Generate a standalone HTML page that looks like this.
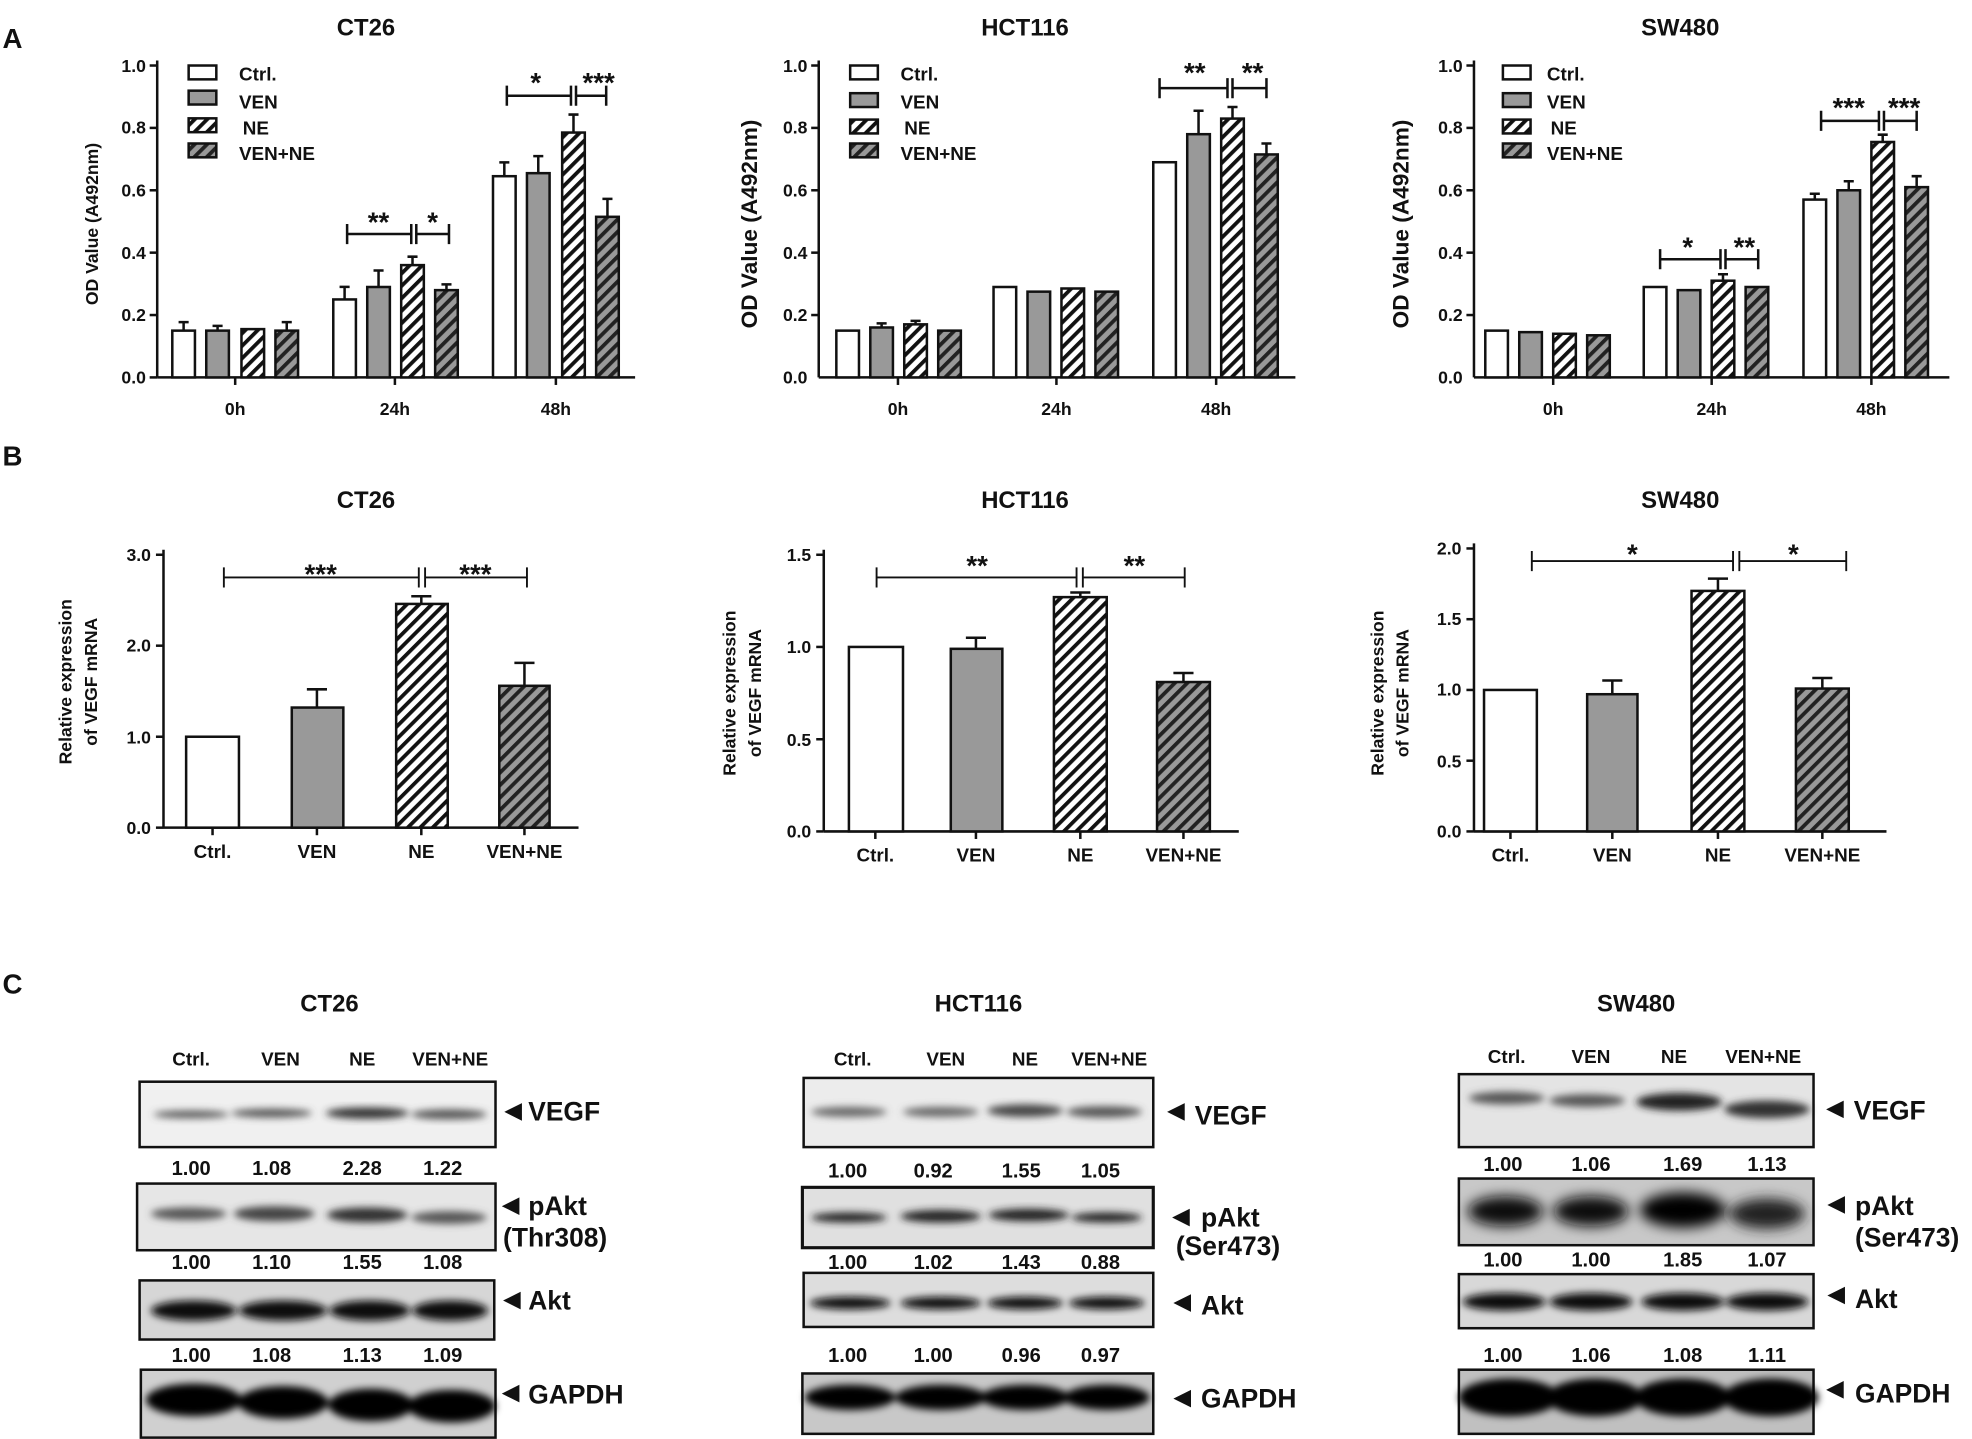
<!DOCTYPE html>
<html><head><meta charset="utf-8"><style>
html,body{margin:0;padding:0;background:#fff;}
svg{display:block;}
text{font-family:"Liberation Sans",Arial,sans-serif;font-weight:bold;fill:#111;}
</style></head><body>
<svg width="1972" height="1439" viewBox="0 0 1568 1144" xmlns="http://www.w3.org/2000/svg">
<defs>
<pattern id="hw" patternUnits="userSpaceOnUse" width="7" height="7" patternTransform="rotate(45)"><rect width="7" height="7" fill="#fff"/><rect width="3" height="7" fill="#111"/></pattern>
<pattern id="hg" patternUnits="userSpaceOnUse" width="7" height="7" patternTransform="rotate(45)"><rect width="7" height="7" fill="#999"/><rect width="3" height="7" fill="#222"/></pattern>
<filter id="bl" x="-20%" y="-50%" width="140%" height="200%"><feGaussianBlur stdDeviation="3"/></filter>
<filter id="bl2" x="-20%" y="-50%" width="140%" height="200%"><feGaussianBlur stdDeviation="5"/></filter>
</defs>
<g stroke="#111" stroke-width="2">
<!-- Panel A CT26 -->
<g>
<line x1="125" y1="48" x2="125" y2="300"/><line x1="125" y1="300" x2="505" y2="300"/>
<line x1="119" y1="52" x2="125" y2="52"/><line x1="119" y1="101.6" x2="125" y2="101.6"/><line x1="119" y1="151.2" x2="125" y2="151.2"/><line x1="119" y1="200.8" x2="125" y2="200.8"/><line x1="119" y1="250.4" x2="125" y2="250.4"/><line x1="119" y1="300" x2="125" y2="300"/>
<line x1="187" y1="300" x2="187" y2="306"/><line x1="314" y1="300" x2="314" y2="306"/><line x1="442" y1="300" x2="442" y2="306"/>
<rect x="137" y="262.8" width="18" height="37.2" fill="#fff"/><rect x="164" y="262.8" width="18" height="37.2" fill="#999"/><rect x="192" y="261.6" width="18" height="38.4" fill="url(#hw)"/><rect x="219" y="262.8" width="18" height="37.2" fill="url(#hg)"/>
<rect x="265" y="238" width="18" height="62" fill="#fff"/><rect x="292" y="228.1" width="18" height="71.9" fill="#999"/><rect x="319" y="210.7" width="18" height="89.3" fill="url(#hw)"/><rect x="346" y="230.6" width="18" height="69.4" fill="url(#hg)"/>
<rect x="392" y="140" width="18" height="160" fill="#fff"/><rect x="419" y="137.6" width="18" height="162.4" fill="#999"/><rect x="447" y="105.3" width="18" height="194.7" fill="url(#hw)"/><rect x="474" y="172.3" width="18" height="127.7" fill="url(#hg)"/>
<path d="M146 263V256M142 256H150M173 263V259M169 259H177M228 263V256M224 256H232M274 238V228M270 228H278M301 228V215M297 215H305M328 211V204M324 204H332M355 231V226M351 226H359M401 140V129M397 129H405M428 138V124M424 124H432M456 105V91M452 91H460M483 172V158M479 158H487" fill="none"/>
<path d="M276 178V194M276 186H327M327 178V194M331 178V194M331 186H357M357 178V194M403 68V84M403 76H454M454 68V84M458 68V84M458 76H482M482 68V84" fill="none"/>
</g>
<!-- Panel A HCT116 -->
<g>
<line x1="651" y1="48" x2="651" y2="300"/><line x1="651" y1="300" x2="1030" y2="300"/>
<line x1="645" y1="52" x2="651" y2="52"/><line x1="645" y1="101.6" x2="651" y2="101.6"/><line x1="645" y1="151.2" x2="651" y2="151.2"/><line x1="645" y1="200.8" x2="651" y2="200.8"/><line x1="645" y1="250.4" x2="651" y2="250.4"/>
<line x1="714" y1="300" x2="714" y2="306"/><line x1="840" y1="300" x2="840" y2="306"/><line x1="967" y1="300" x2="967" y2="306"/>
<rect x="665" y="262.8" width="18" height="37.2" fill="#fff"/><rect x="692" y="260.3" width="18" height="39.7" fill="#999"/><rect x="719" y="257.8" width="18" height="42.2" fill="url(#hw)"/><rect x="746" y="262.8" width="18" height="37.2" fill="url(#hg)"/>
<rect x="790" y="228.1" width="18" height="71.9" fill="#fff"/><rect x="817" y="231.8" width="18" height="68.2" fill="#999"/><rect x="844" y="229.3" width="18" height="70.7" fill="url(#hw)"/><rect x="871" y="231.8" width="18" height="68.2" fill="url(#hg)"/>
<rect x="917" y="128.9" width="18" height="171.1" fill="#fff"/><rect x="944" y="106.6" width="18" height="193.4" fill="#999"/><rect x="971" y="94.2" width="18" height="205.8" fill="url(#hw)"/><rect x="998" y="122.7" width="18" height="177.3" fill="url(#hg)"/>
<path d="M701 260V257M697 257H705M728 258V255M724 255H732M953 107V88M949 88H957M980 94V85M976 85H984M1007 123V114M1003 114H1011" fill="none"/>
<path d="M922 62V78M922 70H976M976 62V78M980 62V78M980 70H1007M1007 62V78" fill="none"/>
</g>
<!-- Panel A SW480 -->
<g>
<line x1="1172" y1="48" x2="1172" y2="300"/><line x1="1172" y1="300" x2="1550" y2="300"/>
<line x1="1166" y1="52" x2="1172" y2="52"/><line x1="1166" y1="101.6" x2="1172" y2="101.6"/><line x1="1166" y1="151.2" x2="1172" y2="151.2"/><line x1="1166" y1="200.8" x2="1172" y2="200.8"/><line x1="1166" y1="250.4" x2="1172" y2="250.4"/>
<line x1="1235" y1="300" x2="1235" y2="306"/><line x1="1361" y1="300" x2="1361" y2="306"/><line x1="1488" y1="300" x2="1488" y2="306"/>
<rect x="1181" y="262.8" width="18" height="37.2" fill="#fff"/><rect x="1208" y="264" width="18" height="36" fill="#999"/><rect x="1235" y="265.3" width="18" height="34.7" fill="url(#hw)"/><rect x="1262" y="266.5" width="18" height="33.5" fill="url(#hg)"/>
<rect x="1307" y="228.1" width="18" height="71.9" fill="#fff"/><rect x="1334" y="230.6" width="18" height="69.4" fill="#999"/><rect x="1361" y="223.1" width="18" height="76.9" fill="url(#hw)"/><rect x="1388" y="228.1" width="18" height="71.9" fill="url(#hg)"/>
<rect x="1434" y="158.6" width="18" height="141.4" fill="#fff"/><rect x="1461" y="151.2" width="18" height="148.8" fill="#999"/><rect x="1488" y="112.8" width="18" height="187.2" fill="url(#hw)"/><rect x="1515" y="148.7" width="18" height="151.3" fill="url(#hg)"/>
<path d="M1370 223V218M1366 218H1374M1443 159V154M1439 154H1447M1470 151V144M1466 144H1474M1497 113V107M1493 107H1501M1524 149V140M1520 140H1528" fill="none"/>
<path d="M1320 198V214M1320 206H1368M1368 198V214M1372 198V214M1372 206H1398M1398 198V214M1448 88V104M1448 96H1494M1494 88V104M1498 88V104M1498 96H1524M1524 88V104" fill="none"/>
</g>
<!-- legends -->
<g stroke-width="2">
<rect x="150" y="52" width="22" height="11" fill="#fff"/><rect x="150" y="72" width="22" height="11" fill="#999"/><rect x="150" y="94" width="22" height="11" fill="url(#hw)"/><rect x="150" y="114" width="22" height="11" fill="url(#hg)"/>
<rect x="676" y="52" width="22" height="11" fill="#fff"/><rect x="676" y="74" width="22" height="11" fill="#999"/><rect x="676" y="95" width="22" height="11" fill="url(#hw)"/><rect x="676" y="114" width="22" height="11" fill="url(#hg)"/>
<rect x="1195" y="52" width="22" height="11" fill="#fff"/><rect x="1195" y="74" width="22" height="11" fill="#999"/><rect x="1195" y="95" width="22" height="11" fill="url(#hw)"/><rect x="1195" y="114" width="22" height="11" fill="url(#hg)"/>
</g>
<!-- Panel B CT26 -->
<g>
<line x1="130" y1="437" x2="130" y2="658"/><line x1="130" y1="658" x2="460" y2="658"/>
<line x1="124" y1="441" x2="130" y2="441"/><line x1="124" y1="513.3" x2="130" y2="513.3"/><line x1="124" y1="585.7" x2="130" y2="585.7"/><line x1="124" y1="658" x2="130" y2="658"/>
<line x1="169" y1="658" x2="169" y2="664"/><line x1="252" y1="658" x2="252" y2="664"/><line x1="335" y1="658" x2="335" y2="664"/><line x1="417" y1="658" x2="417" y2="664"/>
<rect x="148" y="585.7" width="42" height="72.3" fill="#fff"/><rect x="232" y="562.5" width="41" height="95.5" fill="#999"/><rect x="315" y="480.1" width="41" height="177.9" fill="url(#hw)"/><rect x="397" y="545.2" width="40" height="112.8" fill="url(#hg)"/>
<path d="M252 562V548M244 548H260M335 480V474M327 474H343M417 545V527M409 527H425" fill="none"/>
<path d="M178 451V467M178 459H333M333 451V467M338 451V467M338 459H419M419 451V467" fill="none" stroke-width="1.5"/>
</g>
<!-- Panel B HCT116 -->
<g>
<line x1="655" y1="437" x2="655" y2="661"/><line x1="655" y1="661" x2="985" y2="661"/>
<line x1="649" y1="441" x2="655" y2="441"/><line x1="649" y1="514.3" x2="655" y2="514.3"/><line x1="649" y1="587.7" x2="655" y2="587.7"/><line x1="649" y1="661" x2="655" y2="661"/>
<line x1="696" y1="661" x2="696" y2="667"/><line x1="776" y1="661" x2="776" y2="667"/><line x1="859" y1="661" x2="859" y2="667"/><line x1="941" y1="661" x2="941" y2="667"/>
<rect x="675" y="514.3" width="43" height="146.7" fill="#fff"/><rect x="756" y="515.8" width="41" height="145.2" fill="#999"/><rect x="838" y="474.7" width="42" height="186.3" fill="url(#hw)"/><rect x="920" y="542.2" width="42" height="118.8" fill="url(#hg)"/>
<path d="M776 516V507M768 507H784M859 475V471M851 471H867M941 542V535M933 535H949" fill="none"/>
<path d="M697 451V467M697 459H856M856 451V467M861 451V467M861 459H942M942 451V467" fill="none" stroke-width="1.5"/>
</g>
<!-- Panel B SW480 -->
<g>
<line x1="1172" y1="432" x2="1172" y2="661"/><line x1="1172" y1="661" x2="1500" y2="661"/>
<line x1="1166" y1="436" x2="1172" y2="436"/><line x1="1166" y1="492.25" x2="1172" y2="492.25"/><line x1="1166" y1="548.5" x2="1172" y2="548.5"/><line x1="1166" y1="604.75" x2="1172" y2="604.75"/><line x1="1166" y1="661" x2="1172" y2="661"/>
<line x1="1201" y1="661" x2="1201" y2="667"/><line x1="1282" y1="661" x2="1282" y2="667"/><line x1="1366" y1="661" x2="1366" y2="667"/><line x1="1449" y1="661" x2="1449" y2="667"/>
<rect x="1180" y="548.5" width="42" height="112.5" fill="#fff"/><rect x="1262" y="551.9" width="40" height="109.1" fill="#999"/><rect x="1345" y="469.75" width="42" height="191.25" fill="url(#hw)"/><rect x="1428" y="547.4" width="42" height="113.6" fill="url(#hg)"/>
<path d="M1282 552V541M1274 541H1290M1366 470V460M1358 460H1374M1449 547V539M1441 539H1457" fill="none"/>
<path d="M1218 438V454M1218 446H1378M1378 438V454M1383 438V454M1383 446H1468M1468 438V454" fill="none" stroke-width="1.5"/>
</g>
</g>

<!-- Blots -->
<g>
<!-- CT26 -->
<rect x="111" y="860" width="283" height="52" fill="#f0f0f0" stroke="#111" stroke-width="2"/>
<g filter="url(#bl)" fill="#555"><ellipse cx="152" cy="886" rx="30" ry="3"/><ellipse cx="216" cy="885" rx="32" ry="3.5"/><ellipse cx="292" cy="885" rx="33" ry="4.5" fill="#333"/><ellipse cx="357" cy="886" rx="30" ry="4"/></g>
<rect x="109" y="941" width="285" height="53" fill="#e6e6e6" stroke="#111" stroke-width="2"/>
<g filter="url(#bl)" fill="#555"><ellipse cx="150" cy="965" rx="30" ry="5"/><ellipse cx="218" cy="965" rx="32" ry="6" fill="#444"/><ellipse cx="292" cy="966" rx="32" ry="6" fill="#333"/><ellipse cx="357" cy="968" rx="30" ry="5"/></g>
<rect x="111" y="1018" width="282" height="47" fill="#d6d6d6" stroke="#111" stroke-width="2"/>
<g filter="url(#bl)" fill="#111"><ellipse cx="154" cy="1042" rx="34" ry="8"/><ellipse cx="225" cy="1042" rx="35" ry="8"/><ellipse cx="294" cy="1042" rx="32" ry="8"/><ellipse cx="358" cy="1042" rx="30" ry="8"/></g>
<rect x="112" y="1089" width="282" height="54" fill="#d0d0d0" stroke="#111" stroke-width="2"/>
<g filter="url(#bl)" fill="#000"><ellipse cx="154" cy="1113" rx="38" ry="13"/><ellipse cx="225" cy="1115" rx="36" ry="13"/><ellipse cx="295" cy="1117" rx="34" ry="13"/><ellipse cx="359" cy="1118" rx="35" ry="13"/></g>
<!-- HCT116 -->
<rect x="639" y="857" width="278" height="55" fill="#ececec" stroke="#111" stroke-width="2"/>
<g filter="url(#bl)" fill="#666"><ellipse cx="675" cy="884" rx="30" ry="4"/><ellipse cx="748" cy="884" rx="30" ry="4"/><ellipse cx="815" cy="883" rx="30" ry="5" fill="#444"/><ellipse cx="878" cy="884" rx="30" ry="4.5" fill="#555"/></g>
<rect x="638" y="944" width="279" height="48" fill="#e0e0e0" stroke="#111" stroke-width="2.5"/>
<g filter="url(#bl)" fill="#222"><ellipse cx="675" cy="968" rx="30" ry="4"/><ellipse cx="748" cy="967" rx="32" ry="5"/><ellipse cx="818" cy="966" rx="32" ry="5"/><ellipse cx="880" cy="968" rx="28" ry="4"/></g>
<rect x="639" y="1012" width="278" height="43" fill="#ddd" stroke="#111" stroke-width="2"/>
<g filter="url(#bl)" fill="#111"><ellipse cx="676" cy="1036" rx="32" ry="5"/><ellipse cx="748" cy="1036" rx="32" ry="5"/><ellipse cx="815" cy="1036" rx="30" ry="5"/><ellipse cx="880" cy="1036" rx="30" ry="5"/></g>
<rect x="638" y="1092" width="279" height="48" fill="#c8c8c8" stroke="#111" stroke-width="2"/>
<g filter="url(#bl)" fill="#000"><ellipse cx="676" cy="1111" rx="36" ry="10"/><ellipse cx="748" cy="1111" rx="36" ry="10"/><ellipse cx="815" cy="1111" rx="35" ry="10"/><ellipse cx="880" cy="1111" rx="34" ry="10"/></g>
<!-- SW480 -->
<rect x="1160" y="854" width="282" height="58" fill="#e4e4e4" stroke="#111" stroke-width="2"/>
<g filter="url(#bl)" fill="#555"><ellipse cx="1198" cy="873" rx="30" ry="5"/><ellipse cx="1262" cy="875" rx="30" ry="5"/><ellipse cx="1335" cy="876" rx="34" ry="7" fill="#222"/><ellipse cx="1405" cy="882" rx="34" ry="7" fill="#333"/></g>
<rect x="1160" y="937" width="282" height="53" fill="#c8c8c8" stroke="#111" stroke-width="2"/>
<g filter="url(#bl2)" fill="#111"><ellipse cx="1197" cy="963" rx="30" ry="12"/><ellipse cx="1265" cy="963" rx="30" ry="12"/><ellipse cx="1338" cy="962" rx="34" ry="14" fill="#000"/><ellipse cx="1405" cy="965" rx="30" ry="12" fill="#222"/></g>
<rect x="1160" y="1013" width="282" height="43" fill="#d8d8d8" stroke="#111" stroke-width="2"/>
<g filter="url(#bl)" fill="#111"><ellipse cx="1196" cy="1035" rx="33" ry="7"/><ellipse cx="1265" cy="1035" rx="33" ry="7"/><ellipse cx="1338" cy="1035" rx="33" ry="7"/><ellipse cx="1405" cy="1035" rx="33" ry="7"/></g>
<rect x="1160" y="1089" width="282" height="51" fill="#c0c0c0" stroke="#111" stroke-width="2"/>
<g filter="url(#bl)" fill="#000"><ellipse cx="1200" cy="1111" rx="40" ry="15"/><ellipse cx="1268" cy="1111" rx="38" ry="15"/><ellipse cx="1338" cy="1111" rx="38" ry="15"/><ellipse cx="1408" cy="1111" rx="38" ry="15"/></g>
</g>
<!-- arrows -->
<g fill="#111">
<path d="M401 884l14-7v14z"/><path d="M399 959l14-7v14z"/><path d="M400 1034l14-7v14z"/><path d="M399 1108l14-7v14z"/>
<path d="M928 884l14-7v14z"/><path d="M932 968l14-7v14z"/><path d="M933 1036l14-7v14z"/><path d="M933 1112l14-7v14z"/>
<path d="M1452 882l14-7v14z"/><path d="M1453 958l14-7v14z"/><path d="M1453 1030l14-7v14z"/><path d="M1452 1105l14-7v14z"/>
</g>

<!-- Text -->
<g font-size="22"><text x="2" y="38">A</text><text x="2" y="370">B</text><text x="2" y="790">C</text></g>
<g font-size="19" text-anchor="middle">
<text x="291" y="28">CT26</text><text x="815" y="28">HCT116</text><text x="1336" y="28">SW480</text>
<text x="291" y="404">CT26</text><text x="815" y="404">HCT116</text><text x="1336" y="404">SW480</text>
<text x="262" y="804">CT26</text><text x="778" y="804">HCT116</text><text x="1301" y="804">SW480</text>
</g>
<g font-size="14" text-anchor="end">
<text x="116" y="57">1.0</text><text x="116" y="106">0.8</text><text x="116" y="156">0.6</text><text x="116" y="206">0.4</text><text x="116" y="255">0.2</text><text x="116" y="305">0.0</text>
<text x="642" y="57">1.0</text><text x="642" y="106">0.8</text><text x="642" y="156">0.6</text><text x="642" y="206">0.4</text><text x="642" y="255">0.2</text><text x="642" y="305">0.0</text>
<text x="1163" y="57">1.0</text><text x="1163" y="106">0.8</text><text x="1163" y="156">0.6</text><text x="1163" y="206">0.4</text><text x="1163" y="255">0.2</text><text x="1163" y="305">0.0</text>
<text x="120" y="446">3.0</text><text x="120" y="518">2.0</text><text x="120" y="591">1.0</text><text x="120" y="663">0.0</text>
<text x="645" y="446">1.5</text><text x="645" y="519">1.0</text><text x="645" y="593">0.5</text><text x="645" y="666">0.0</text>
<text x="1162" y="441">2.0</text><text x="1162" y="497">1.5</text><text x="1162" y="553">1.0</text><text x="1162" y="610">0.5</text><text x="1162" y="666">0.0</text>
</g>
<g font-size="14" text-anchor="middle">
<text x="187" y="330">0h</text><text x="314" y="330">24h</text><text x="442" y="330">48h</text>
<text x="714" y="330">0h</text><text x="840" y="330">24h</text><text x="967" y="330">48h</text>
<text x="1235" y="330">0h</text><text x="1361" y="330">24h</text><text x="1488" y="330">48h</text>
</g>
<g font-size="15" text-anchor="middle">
<text x="169" y="682">Ctrl.</text><text x="252" y="682">VEN</text><text x="335" y="682">NE</text><text x="417" y="682">VEN+NE</text>
<text x="696" y="685">Ctrl.</text><text x="776" y="685">VEN</text><text x="859" y="685">NE</text><text x="941" y="685">VEN+NE</text>
<text x="1201" y="685">Ctrl.</text><text x="1282" y="685">VEN</text><text x="1366" y="685">NE</text><text x="1449" y="685">VEN+NE</text>
</g>
<g font-size="15">
<text x="190" y="64">Ctrl.</text><text x="190" y="86">VEN</text><text x="193" y="107">NE</text><text x="190" y="127">VEN+NE</text>
<text x="716" y="64">Ctrl.</text><text x="716" y="86">VEN</text><text x="719" y="107">NE</text><text x="716" y="127">VEN+NE</text>
<text x="1230" y="64">Ctrl.</text><text x="1230" y="86">VEN</text><text x="1233" y="107">NE</text><text x="1230" y="127">VEN+NE</text>
</g>
<g font-size="22" text-anchor="middle">
<text x="301" y="184">**</text><text x="344" y="184">*</text><text x="426" y="73">*</text><text x="476" y="73">***</text>
<text x="950" y="65">**</text><text x="996" y="65">**</text>
<text x="1342" y="204">*</text><text x="1387" y="204">**</text><text x="1470" y="93">***</text><text x="1514" y="93">***</text>
<text x="255" y="464">***</text><text x="378" y="464">***</text>
<text x="777" y="457">**</text><text x="902" y="457">**</text>
<text x="1298" y="448">*</text><text x="1426" y="448">*</text>
</g>
<g font-size="14" text-anchor="middle">
<text transform="translate(78,178) rotate(-90)">OD Value (A492nm)</text>
<text transform="translate(602,178) rotate(-90)" font-size="18">OD Value (A492nm)</text>
<text transform="translate(1120,178) rotate(-90)" font-size="18">OD Value (A492nm)</text>
<text transform="translate(57,542) rotate(-90)">Relative expression</text><text transform="translate(77,542) rotate(-90)">of VEGF mRNA</text>
<text transform="translate(585,551) rotate(-90)">Relative expression</text><text transform="translate(605,551) rotate(-90)">of VEGF mRNA</text>
<text transform="translate(1100,551) rotate(-90)">Relative expression</text><text transform="translate(1120,551) rotate(-90)">of VEGF mRNA</text>
</g>
<g font-size="15" text-anchor="middle">
<text x="152" y="847">Ctrl.</text><text x="223" y="847">VEN</text><text x="288" y="847">NE</text><text x="358" y="847">VEN+NE</text>
<text x="678" y="847">Ctrl.</text><text x="752" y="847">VEN</text><text x="815" y="847">NE</text><text x="882" y="847">VEN+NE</text>
<text x="1198" y="845">Ctrl.</text><text x="1265" y="845">VEN</text><text x="1331" y="845">NE</text><text x="1402" y="845">VEN+NE</text>
</g>
<g font-size="16" text-anchor="middle">
<text x="152" y="934">1.00</text><text x="216" y="934">1.08</text><text x="288" y="934">2.28</text><text x="352" y="934">1.22</text>
<text x="152" y="1009">1.00</text><text x="216" y="1009">1.10</text><text x="288" y="1009">1.55</text><text x="352" y="1009">1.08</text>
<text x="152" y="1083">1.00</text><text x="216" y="1083">1.08</text><text x="288" y="1083">1.13</text><text x="352" y="1083">1.09</text>
<text x="674" y="936">1.00</text><text x="742" y="936">0.92</text><text x="812" y="936">1.55</text><text x="875" y="936">1.05</text>
<text x="674" y="1009">1.00</text><text x="742" y="1009">1.02</text><text x="812" y="1009">1.43</text><text x="875" y="1009">0.88</text>
<text x="674" y="1083">1.00</text><text x="742" y="1083">1.00</text><text x="812" y="1083">0.96</text><text x="875" y="1083">0.97</text>
<text x="1195" y="931">1.00</text><text x="1265" y="931">1.06</text><text x="1338" y="931">1.69</text><text x="1405" y="931">1.13</text>
<text x="1195" y="1007">1.00</text><text x="1265" y="1007">1.00</text><text x="1338" y="1007">1.85</text><text x="1405" y="1007">1.07</text>
<text x="1195" y="1083">1.00</text><text x="1265" y="1083">1.06</text><text x="1338" y="1083">1.08</text><text x="1405" y="1083">1.11</text>
</g>
<g font-size="21">
<text x="420" y="891">VEGF</text><text x="420" y="966">pAkt</text><text x="400" y="991">(Thr308)</text><text x="420" y="1041">Akt</text><text x="420" y="1116">GAPDH</text>
<text x="950" y="894">VEGF</text><text x="955" y="975">pAkt</text><text x="935" y="998">(Ser473)</text><text x="955" y="1045">Akt</text><text x="955" y="1119">GAPDH</text>
<text x="1474" y="890">VEGF</text><text x="1475" y="966">pAkt</text><text x="1475" y="991">(Ser473)</text><text x="1475" y="1040">Akt</text><text x="1475" y="1115">GAPDH</text>
</g>
</svg>
</body></html>
